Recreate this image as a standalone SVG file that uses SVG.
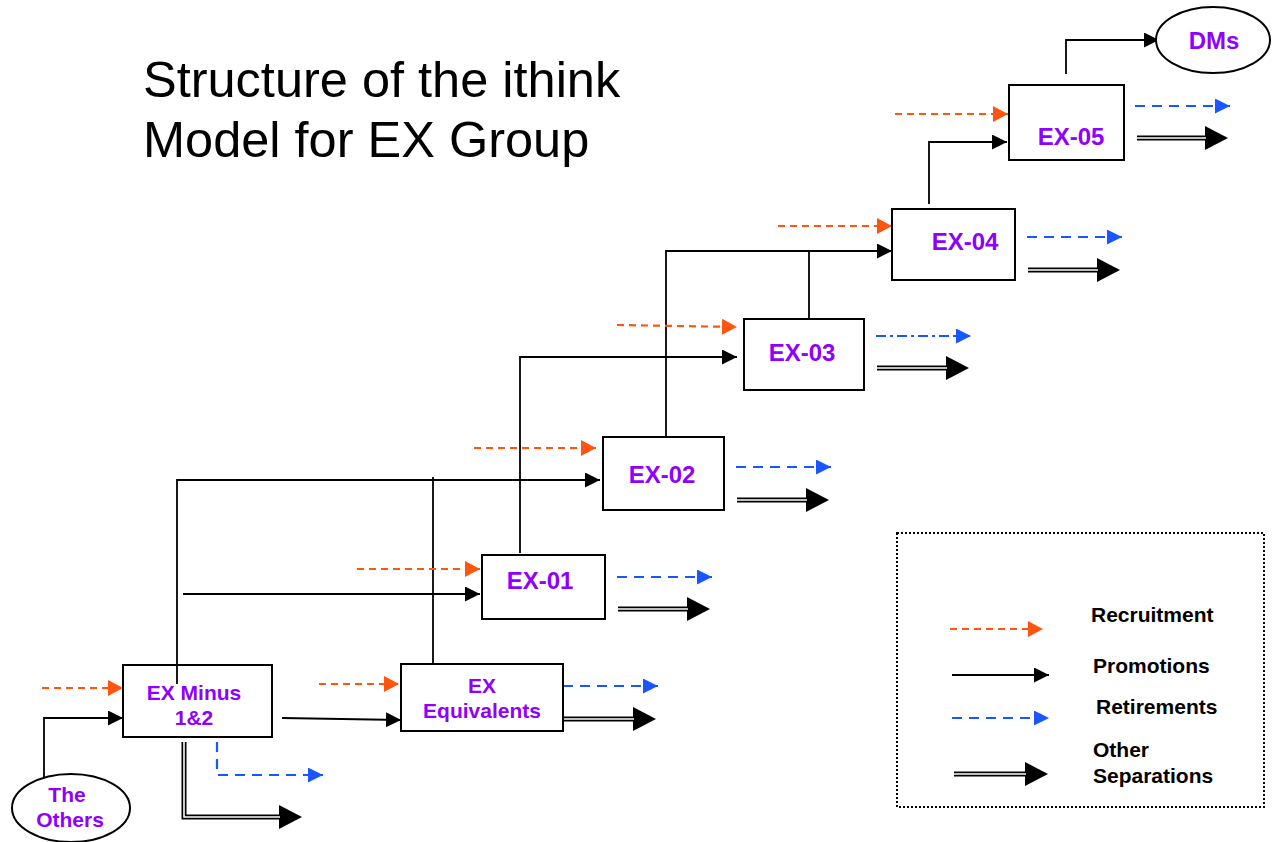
<svg xmlns="http://www.w3.org/2000/svg" width="1272" height="842" viewBox="0 0 1272 842">
<style>
  .title{font-family:"Liberation Sans",Arial,sans-serif;font-size:50.5px;fill:#000}
  .lbl{font-family:"Liberation Sans",Arial,sans-serif;font-weight:bold;fill:#8F00FF;text-anchor:middle}
  .big{font-size:24px}
  .sm{font-size:21px}
  .leg{font-family:"Liberation Sans",Arial,sans-serif;font-weight:bold;font-size:21px;fill:#000}
  .box{fill:#fff;stroke:#000;stroke-width:2}
  .promo{fill:none;stroke:#000;stroke-width:1.8}
  .recr{fill:none;stroke:#FF5511;stroke-width:2.2;stroke-dasharray:7 5}
  .ret{fill:none;stroke:#1A56FF;stroke-width:2.2;stroke-dasharray:10 7}
  .retdd{fill:none;stroke:#1A56FF;stroke-width:2.2;stroke-dasharray:10 4 3 4}
  .sepo{fill:none;stroke:#000;stroke-width:5;stroke-linejoin:miter}
  .sepi{fill:none;stroke:#fff;stroke-width:1.6;stroke-linejoin:miter}
</style>
<defs>
  <marker id="mP" markerUnits="userSpaceOnUse" markerWidth="15" markerHeight="15" refX="15" refY="7.5" orient="auto">
    <path d="M0,0 L15,7.5 L0,15 z" fill="#000"/>
  </marker>
  <marker id="mR" markerUnits="userSpaceOnUse" markerWidth="15" markerHeight="16" refX="15" refY="8" orient="auto">
    <path d="M0,0 L15,8 L0,16 z" fill="#FF5511"/>
  </marker>
  <marker id="mB" markerUnits="userSpaceOnUse" markerWidth="15" markerHeight="15" refX="15" refY="7.5" orient="auto">
    <path d="M0,0 L15,7.5 L0,15 z" fill="#1A56FF"/>
  </marker>
  <marker id="mS" markerUnits="userSpaceOnUse" markerWidth="24" markerHeight="24" refX="0" refY="12" orient="auto">
    <path d="M0,0 L23,12 L0,24 z" fill="#000"/>
  </marker>
</defs>
<rect width="1272" height="842" fill="#fff"/>

<g id="title">
  <text class="title" x="143" y="97">Structure of the ithink</text>
  <text class="title" x="143" y="157">Model for EX Group</text>
</g>

<g id="connectors">
  <!-- promotions -->
  <path class="promo" d="M44,777 V718 H123" marker-end="url(#mP)"/>
  <path class="promo" d="M282,718 L401,720" marker-end="url(#mP)"/>
  <path class="promo" d="M177,684 V480 H600" marker-end="url(#mP)"/>
  <path class="promo" d="M183,594 H480" marker-end="url(#mP)"/>
  <path class="promo" d="M433,665 V477"/>
  <path class="promo" d="M520,553 V357 H737" marker-end="url(#mP)"/>
  <path class="promo" d="M666,437 V251 H892" marker-end="url(#mP)"/>
  <path class="promo" d="M809,318 V250"/>
  <path class="promo" d="M929,204 V142 H1007" marker-end="url(#mP)"/>
  <path class="promo" d="M1066,74 V40 H1159" marker-end="url(#mP)"/>

  <!-- recruitment -->
  <path class="recr" d="M42,688 H123" marker-end="url(#mR)"/>
  <path class="recr" d="M319,684 H399" marker-end="url(#mR)"/>
  <path class="recr" d="M357,569 H480" marker-end="url(#mR)"/>
  <path class="recr" d="M474,448 H596" marker-end="url(#mR)"/>
  <path class="recr" d="M617,325 L737,327" marker-end="url(#mR)"/>
  <path class="recr" d="M778,226 H892" marker-end="url(#mR)"/>
  <path class="recr" d="M895,114 H1008" marker-end="url(#mR)"/>

  <!-- retirements -->
  <path class="ret" d="M217,742 V775 H323" marker-end="url(#mB)"/>
  <path class="ret" d="M563,686 H658" marker-end="url(#mB)"/>
  <path class="ret" d="M617,577 H712" marker-end="url(#mB)"/>
  <path class="ret" d="M736,467 H831" marker-end="url(#mB)"/>
  <path class="retdd" d="M876,336 H971" marker-end="url(#mB)"/>
  <path class="ret" d="M1027,237 H1122" marker-end="url(#mB)"/>
  <path class="ret" d="M1135,106 H1230" marker-end="url(#mB)"/>

  <!-- other separations -->
  <path class="sepo" d="M184,742 V817 H279" marker-end="url(#mS)"/>
  <path class="sepi" d="M184,742 V817 H280"/>
  <path class="sepo" d="M563,719 H633" marker-end="url(#mS)"/>
  <path class="sepi" d="M563,719 H634"/>
  <path class="sepo" d="M618,609 H687" marker-end="url(#mS)"/>
  <path class="sepi" d="M618,609 H688"/>
  <path class="sepo" d="M737,500 H806" marker-end="url(#mS)"/>
  <path class="sepi" d="M737,500 H807"/>
  <path class="sepo" d="M877,368 H946" marker-end="url(#mS)"/>
  <path class="sepi" d="M877,368 H947"/>
  <path class="sepo" d="M1028,270 H1097" marker-end="url(#mS)"/>
  <path class="sepi" d="M1028,270 H1098"/>
  <path class="sepo" d="M1137,138 H1205" marker-end="url(#mS)"/>
  <path class="sepi" d="M1137,138 H1206"/>
</g>

<g id="node-others">
  <ellipse cx="71" cy="808" rx="59" ry="34" fill="#fff" stroke="#000" stroke-width="2"/>
  <text class="lbl sm" x="67" y="802">The</text>
  <text class="lbl sm" x="70" y="827">Others</text>
</g>
<g id="node-exminus">
  <rect class="box" x="123" y="665" width="149" height="72" fill-opacity="0"/>
  <text class="lbl sm" x="194" y="700">EX Minus</text>
  <text class="lbl sm" x="194" y="725">1&amp;2</text>
</g>
<g id="node-exeq">
  <rect class="box" x="401" y="664" width="162" height="67"/>
  <text class="lbl sm" x="482" y="693">EX</text>
  <text class="lbl sm" x="482" y="718">Equivalents</text>
</g>
<g id="node-ex01">
  <rect class="box" x="482" y="555" width="123" height="64"/>
  <text class="lbl big" x="540" y="589">EX-01</text>
</g>
<g id="node-ex02">
  <rect class="box" x="603" y="437" width="121" height="73"/>
  <text class="lbl big" x="662" y="483">EX-02</text>
</g>
<g id="node-ex03">
  <rect class="box" x="744" y="319" width="120" height="71"/>
  <text class="lbl big" x="802" y="361">EX-03</text>
</g>
<g id="node-ex04">
  <rect class="box" x="892" y="209" width="123" height="71"/>
  <text class="lbl big" x="965" y="250">EX-04</text>
</g>
<g id="node-ex05">
  <rect class="box" x="1009" y="85" width="115" height="75"/>
  <text class="lbl big" x="1071" y="145">EX-05</text>
</g>
<g id="node-dms">
  <ellipse cx="1213" cy="40" rx="57" ry="33" fill="#fff" stroke="#000" stroke-width="2"/>
  <text class="lbl big" x="1214" y="49">DMs</text>
</g>

<g id="legend">
  <rect x="897" y="533" width="367" height="274" fill="none" stroke="#000" stroke-width="2" stroke-dasharray="2 2"/>
  <path class="recr" d="M950,629 H1043" marker-end="url(#mR)"/>
  <text class="leg" x="1091" y="622">Recruitment</text>
  <path class="promo" d="M952,675 H1049" marker-end="url(#mP)"/>
  <text class="leg" x="1093" y="673">Promotions</text>
  <path class="ret" d="M952,718 H1049" marker-end="url(#mB)"/>
  <text class="leg" x="1096" y="714">Retirements</text>
  <path class="sepo" d="M954,774 H1025" marker-end="url(#mS)"/>
  <path class="sepi" d="M954,774 H1026"/>
  <text class="leg" x="1093" y="757">Other</text>
  <text class="leg" x="1093" y="783">Separations</text>
</g>
</svg>
